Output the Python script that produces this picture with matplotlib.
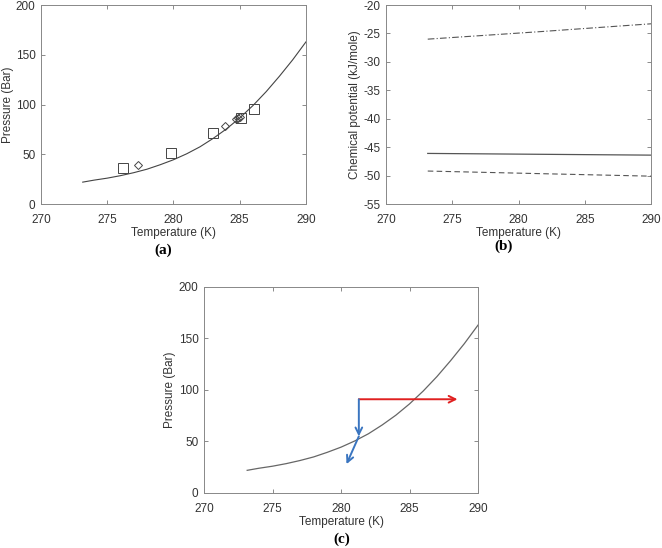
import numpy as np
import matplotlib.pyplot as plt

plt.rcParams['font.family'] = ['Liberation Sans', 'DejaVu Sans']
plt.rcParams['axes.unicode_minus'] = False

#
# Datos
#
# curva de equilibrio P-T
temp_curva = [273.15, 274, 275, 276, 277, 278, 279, 280, 281, 282, 283, 284, 285, 286, 287, 288, 289, 290]
pres_curva = [22, 24, 26, 28.5, 31.5, 35, 39.5, 44.5, 50.5, 57.5, 66, 75.5, 86.5, 99, 113, 128.5, 145, 163]

# datos experimentales
temp_cuad = [276.2, 279.8, 283.0, 285.1, 286.1]
pres_cuad = [36, 51, 71, 86, 96]
temp_diam = [277.3, 283.9, 284.7, 284.85, 285.0]
pres_diam = [39, 78, 85, 86, 87]

# potencial químico
temp_pot = [273.15, 281.5, 290]
pot_dashdot = [-26.0, -24.7, -23.3]
pot_solid = [-46.1, -46.25, -46.4]
pot_dashed = [-49.2, -49.65, -50.1]

# flechas del panel (c)
punto_ini = (281.3, 91)
punto_curva = (281.3, 55)
fin_rojo = (288.5, 91)
fin_azul = (280.4, 28)


def estilo(ax, yticks):
	ax.set_xlim(270, 290)
	ax.set_xticks([270, 275, 280, 285, 290])
	ax.set_yticks(yticks)
	ax.set_ylim(yticks[0], yticks[-1])
	ax.tick_params(direction='in', top=True, right=True, length=3, width=0.6, pad=4,
		colors='#777777', labelcolor='#333333', labelsize=8.5)
	ax.tick_params(axis='x', pad=7)
	for s in ax.spines.values():
		s.set_color('#888888')
		s.set_linewidth(0.7)
	ax.set_xlabel('Temperature (K)', fontsize=8.5, color='#333333', labelpad=1)


fig = plt.figure(figsize=(6.62, 5.48), dpi=100)

# (a)
ax1 = fig.add_axes([0.0619, 0.6277, 0.4003, 0.3631])
ax1.plot(temp_curva, pres_curva, color='#444444', lw=0.8)
ax1.plot(temp_cuad, pres_cuad, 's', mfc='none', mec='#444444', ms=6.5, mew=0.7)
ax1.plot(temp_diam, pres_diam, 'D', mfc='none', mec='#444444', ms=4, mew=0.7)
estilo(ax1, [0, 50, 100, 150, 200])
ax1.set_ylabel('Pressure (Bar)', fontsize=8.5, color='#333333', labelpad=1)
fig.text(163 / 662, 1 - 250 / 548, '(a)', family='Liberation Serif', fontweight='bold',
	fontsize=11, ha='center', va='center')

# (b)
ax2 = fig.add_axes([0.5831, 0.6277, 0.4003, 0.3631])
ax2.plot(temp_pot, pot_dashdot, color='#555555', lw=0.8, ls=(0, (6, 2, 1, 2)))
ax2.plot(temp_pot, pot_solid, color='#555555', lw=0.9)
ax2.plot(temp_pot, pot_dashed, color='#555555', lw=0.8, ls=(0, (5, 3)))
estilo(ax2, [-55, -50, -45, -40, -35, -30, -25, -20])
ax2.set_ylabel('Chemical potential (kJ/mole)', fontsize=8.5, color='#333333', labelpad=2)
fig.text(504 / 662, 1 - 246 / 548, '(b)', family='Liberation Serif', fontweight='bold',
	fontsize=11, ha='center', va='center')

# (c)
ax3 = fig.add_axes([0.3082, 0.1004, 0.4139, 0.3759])
ax3.plot(temp_curva, pres_curva, color='#666666', lw=0.9)
flecha = dict(arrowstyle='->', lw=1.4, mutation_scale=12, shrinkA=0, shrinkB=0)
ax3.annotate('', xy=fin_rojo, xytext=punto_ini, arrowprops=dict(flecha, color='#e02020'))
ax3.annotate('', xy=punto_curva, xytext=punto_ini, arrowprops=dict(flecha, color='#3a75c0'))
ax3.annotate('', xy=fin_azul, xytext=punto_curva, arrowprops=dict(flecha, color='#3a75c0'))
estilo(ax3, [0, 50, 100, 150, 200])
ax3.set_ylabel('Pressure (Bar)', fontsize=8.5, color='#333333', labelpad=2)
fig.text(342 / 662, 1 - 539 / 548, '(c)', family='Liberation Serif', fontweight='bold',
	fontsize=11, ha='center', va='center')

fig.savefig('out.png', dpi=100)
